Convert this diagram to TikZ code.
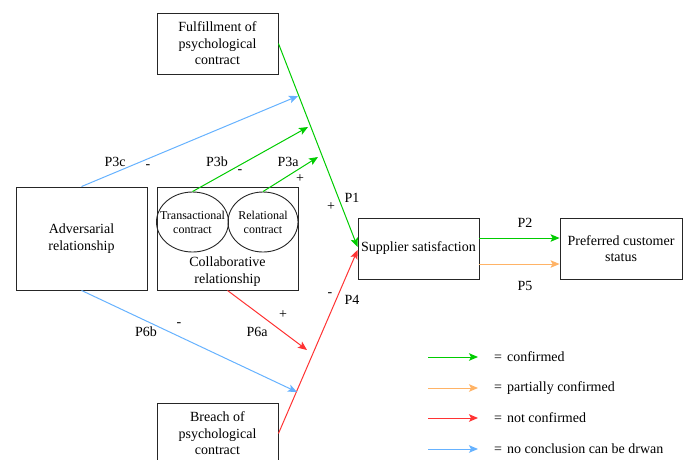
\documentclass[tikz,border=0pt]{standalone}
\usepackage{fontspec}
\setmainfont{Liberation Serif}
\newfontfamily\tnr{Liberation Serif}
\usetikzlibrary{arrows.meta,calc,shapes.geometric}
\definecolor{cgreen}{HTML}{00CC00}
\definecolor{corange}{HTML}{FFB366}
\definecolor{cred}{HTML}{FF3333}
\definecolor{cblue}{HTML}{66B2FF}
\begin{document}
\begin{tikzpicture}[x=1pt,y=-1pt,
  box/.style={draw=black!85,line width=0.9pt,rectangle,inner sep=1pt,align=center,
    font=\tnr\fontsize{14}{16.5}\selectfont},
  oval/.style={draw=black!85,line width=0.9pt,ellipse,inner sep=0pt},
  lbl/.style={font=\tnr\fontsize{14}{16}\selectfont,inner sep=0pt},
  arrw/.style={line width=1pt,-{Stealth[length=9pt,width=7.5pt,inset=2pt]}},
  garrow/.style={arrw,cgreen},
  oarrow/.style={arrw,corange},
  rarrow/.style={arrw,cred},
  barrow/.style={arrw,cblue},
]
\useasboundingbox (0,0) rectangle (685,459);
\begin{scope}
\clip (0,0) rectangle (685,459);
% boxes
\node[box,minimum width=121pt,minimum height=61pt] (fulf) at (217.5,43.5) {Fulfillment of\\psychological\\contract};
\node[box,minimum width=121pt,minimum height=61pt] (breach) at (217.5,433.5) {Breach of\\psychological\\contract};
\node[box,minimum width=131pt,minimum height=103pt] (adv) at (81.5,238.5) {Adversarial\\relationship};
\node[box,minimum width=141pt,minimum height=103pt] (collab) at (227.5,238.5) {};
\node[lbl,align=center,font=\tnr\fontsize{14}{16.5}\selectfont] (collabtxt) at (227.5,271.5) {Collaborative\\relationship};
\node[oval,minimum width=72pt,minimum height=60pt] (tr) at (192.5,222) {};
\node[oval,minimum width=70pt,minimum height=60pt] (rel) at (263,222) {};
\node[lbl,align=center,font=\tnr\fontsize{12}{14}\selectfont] (trtxt) at (192.5,222) {Transactional\\contract};
\node[lbl,align=center,font=\tnr\fontsize{12}{14}\selectfont] (reltxt) at (263,222) {Relational\\contract};
\node[box,minimum width=121pt,minimum height=61pt] (supp) at (418.5,248.5) {Supplier satisfaction};
\node[box,minimum width=122pt,minimum height=61pt] (pref) at (621,248.5) {Preferred customer\\status};
% arrow end coordinates
\coordinate (t3c) at (298,96);
\coordinate (t3b) at (308,127);
\coordinate (t3a) at (318,157);
\coordinate (t6a) at (307,350);
\coordinate (t6b) at (297,392);
% main arrows
\draw[garrow] (fulf.east) -- ($(supp.west)+(0,-1.5)$);
\draw[rarrow] (breach.east) -- ($(supp.west)+(0,1.5)$);
\draw[barrow] (adv.north) -- (t3c);
\draw[garrow] (tr.north) -- (t3b);
\draw[garrow] (rel.north) -- (t3a);
\draw[rarrow] (collab.south) -- (t6a);
\draw[barrow] (adv.south) -- (t6b);
\draw[garrow] ($(supp.east)+(0,-10.5)$) -- ($(pref.west)+(0,-10.5)$);
\draw[oarrow] ($(supp.east)+(0,15.5)$) -- ($(pref.west)+(0,15.5)$);
% labels
\node[lbl] (p3c) at (115,162) {P3c};
\node[lbl] (m3c) at (148,167) {-};
\node[lbl] (p3b) at (217,162) {P3b};
\node[lbl] (m3b) at (240,172) {-};
\node[lbl] (p3a) at (288,162) {P3a};
\node[lbl] (s3a) at (300,179) {+};
\node[lbl] (p1) at (352,198) {P1};
\node[lbl] (s1) at (331,207) {+};
\node[lbl] (p2) at (525,223) {P2};
\node[lbl] (p5) at (525,286) {P5};
\node[lbl] (p4) at (352,300) {P4};
\node[lbl] (m4) at (330,295) {-};
\node[lbl] (p6b) at (146,332) {P6b};
\node[lbl] (m6b) at (179,325) {-};
\node[lbl] (p6a) at (257,332) {P6a};
\node[lbl] (s6a) at (283,315) {+};
% legend
\coordinate (l1s) at (428,357); \coordinate (l1e) at (478,357);
\coordinate (l2s) at (428,388); \coordinate (l2e) at (478,388);
\coordinate (l3s) at (428,418); \coordinate (l3e) at (478,418);
\coordinate (l4s) at (428,449); \coordinate (l4e) at (478,449);
\draw[garrow] (l1s) -- (l1e);
\draw[oarrow] (l2s) -- (l2e);
\draw[rarrow] (l3s) -- (l3e);
\draw[barrow] (l4s) -- (l4e);
\node[lbl,anchor=west] (g1) at (494,357) {=\hspace{5pt}confirmed};
\node[lbl,anchor=west] (g2) at (494,388) {=\hspace{5pt}partially confirmed};
\node[lbl,anchor=west] (g3) at (494,418) {=\hspace{5pt}not confirmed};
\node[lbl,anchor=west] (g4) at (494,449) {=\hspace{5pt}no conclusion can be drwan};
\end{scope}
\end{tikzpicture}
\end{document}
